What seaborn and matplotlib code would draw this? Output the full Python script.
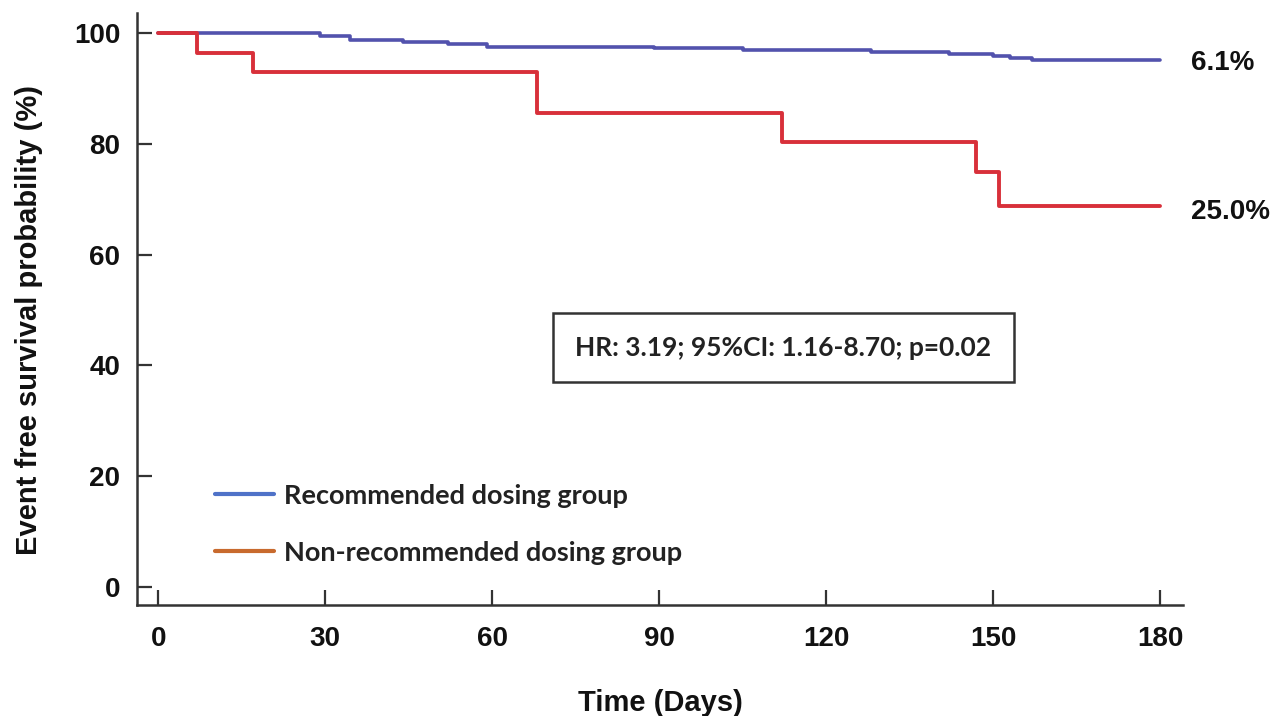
import matplotlib
matplotlib.use("Agg")
import matplotlib.pyplot as plt
from matplotlib.lines import Line2D
import seaborn as sns
import pandas as pd

# ---- data ----
blue_days = [0, 29, 34.5, 44, 52, 59, 89, 105, 128, 142, 150, 153, 157, 180]
blue_surv = [100, 99.5, 98.7, 98.4, 98.0, 97.5, 97.2, 96.9, 96.5, 96.2, 95.8, 95.5, 95.1, 95.1]
red_days = [0, 7, 17, 68, 112, 147, 151, 180]
red_surv = [100, 96.4, 92.9, 85.6, 80.3, 74.9, 68.8, 68.8]

group_names = ["Recommended dosing group", "Non-recommended dosing group"]
end_labels = ["6.1%", "25.0%"]
hr_text = "HR: 3.19; 95%CI: 1.16-8.70; p=0.02"
x_ticks = [0, 30, 60, 90, 120, 150, 180]
y_ticks = [0, 20, 40, 60, 80, 100]

curve_colors = ["#5252ad", "#d8303a"]
legend_colors = ["#4f72c8", "#c86a2e"]

sns.set_theme(style="white")
plt.rcParams["font.family"] = ["Liberation Sans", "DejaVu Sans"]

fig = plt.figure(figsize=(12.79, 7.16), dpi=100)
ax = fig.add_axes([137/1279, 1 - 605/716, (1183-137)/1279, (605-13)/716])

df_blue = pd.DataFrame({"day": blue_days, "surv": blue_surv})
df_red = pd.DataFrame({"day": red_days, "surv": red_surv})
sns.lineplot(data=df_blue, x="day", y="surv", ax=ax, color=curve_colors[0],
             drawstyle="steps-post", estimator=None, linewidth=2.6, zorder=2)
sns.lineplot(data=df_red, x="day", y="surv", ax=ax, color=curve_colors[1],
             drawstyle="steps-post", estimator=None, linewidth=2.8, zorder=3)

ax.set_xlim(-3.8, 184.1)
ax.set_ylim(-3.25, 103.6)
ax.set_xticks(x_ticks)
ax.set_yticks(y_ticks)
for s in ["top", "right"]:
    ax.spines[s].set_visible(False)
for s in ["left", "bottom"]:
    ax.spines[s].set_color("#333333")
    ax.spines[s].set_linewidth(1.8)
ax.tick_params(axis="both", which="major", bottom=True, left=True, direction="in",
               length=11, width=1.6, color="#333333", labelsize=20, labelcolor="#111111")
ax.tick_params(axis="x", pad=15)
ax.tick_params(axis="y", pad=12)
for lab in ax.get_xticklabels() + ax.get_yticklabels():
    lab.set_fontweight("bold")

ax.set_xlabel("Time (Days)", fontsize=21, fontweight="bold", color="#111111", labelpad=27)
ax.set_ylabel("Event free survival probability (%)", fontsize=21, fontweight="bold",
              color="#111111")
ax.yaxis.set_label_coords(-0.09, 0.481)

# end-of-curve percentages
ax.text(185.5, blue_surv[-1] - 0.6, end_labels[0], fontsize=20, fontweight="bold",
        va="center", ha="left", color="#111111", clip_on=False)
ax.text(185.5, red_surv[-1] - 1.2, end_labels[1], fontsize=20, fontweight="bold",
        va="center", ha="left", color="#111111", clip_on=False)

# HR box
ax.text(112.3, 43.2, hr_text, fontsize=19, fontweight="bold", family=["Lato", "DejaVu Sans"],
        ha="center", va="center", color="#222222",
        bbox=dict(boxstyle="square,pad=0.85", facecolor="white", edgecolor="#333333", linewidth=1.8))

# legend
handles = [Line2D([0], [0], color=legend_colors[0], linewidth=3),
           Line2D([0], [0], color=legend_colors[1], linewidth=3)]
leg = ax.legend(handles, group_names, loc="upper left", bbox_to_anchor=(0.051, 0.246),
                frameon=False, handlelength=2.2, handletextpad=0.35, labelspacing=1.22,
                prop={"family": ["Lato", "DejaVu Sans"], "weight": "bold", "size": 19.5})
for t in leg.get_texts():
    t.set_color("#222222")

fig.savefig("out.png", dpi=100)
